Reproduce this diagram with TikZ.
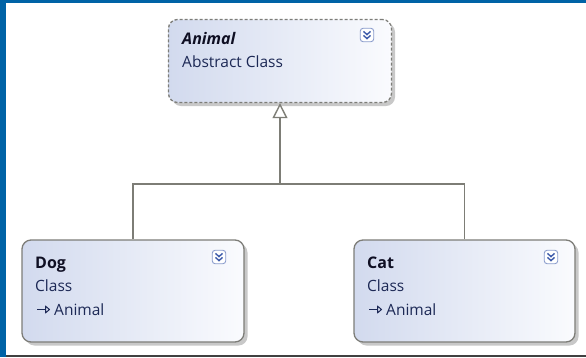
\documentclass[tikz,border=0pt]{standalone}
\usepackage{fontspec}
\setmainfont{Open Sans}
\usetikzlibrary{arrows.meta,shadows}
\definecolor{frameblue}{RGB}{0,99,166}
\definecolor{boxleft}{RGB}{210,218,238}
\definecolor{boxright}{RGB}{250,251,254}
\definecolor{boxline}{RGB}{125,125,120}
\definecolor{linkgray}{RGB}{125,125,118}
\definecolor{nametext}{RGB}{15,15,35}
\definecolor{subtext}{RGB}{28,40,85}
\definecolor{iconblue}{RGB}{60,90,170}
\tikzset{
  classbox/.style={rectangle, rounded corners=9pt, draw=boxline, line width=1.3pt,
    left color=boxleft, right color=boxright, inner sep=0pt,
    drop shadow={shadow xshift=3.5pt, shadow yshift=-3.5pt, fill=black!30, opacity=0.7}},
  abstractbox/.style={classbox, dashed, dash pattern=on 3pt off 2pt},
  titletext/.style={anchor=base west, font=\fontsize{16}{18}\selectfont\bfseries, text=nametext, inner sep=0pt},
  kindtext/.style={anchor=base west, font=\fontsize{15.5}{18}\selectfont, text=subtext, inner sep=0pt},
  collapsebtn/.style={rectangle, rounded corners=3pt, draw=iconblue!60, line width=0.9pt,
    fill=white, minimum width=13.5pt, minimum height=13.5pt, inner sep=0pt},
  chevron/.style={draw=iconblue, line width=1.4pt},
  link/.style={draw=linkgray, line width=1.4pt},
  inherit/.style={link, -{Triangle[open, length=15pt, width=15pt, line width=1.4pt]}}
}
\newcommand{\chevrons}[1]{%
  \draw[chevron] ([xshift=-3.5pt,yshift=3.6pt]#1.center) -- ([yshift=0.4pt]#1.center) -- ([xshift=3.5pt,yshift=3.6pt]#1.center);
  \draw[chevron] ([xshift=-3.5pt,yshift=-0.4pt]#1.center) -- ([yshift=-3.6pt]#1.center) -- ([xshift=3.5pt,yshift=-0.4pt]#1.center);
}
\newcommand{\baseclassmark}[2]{%
  \draw[draw=subtext, line width=1.1pt] (#1,#2) -- ++(8.5,0);
  \draw[draw=subtext, line width=1pt, line join=round] (#1+8.5,#2-3.4) -- (#1+12.5,#2) -- (#1+8.5,#2+3.4) -- cycle;
}
\begin{document}
\begin{tikzpicture}[x=1pt, y=-1pt]
  \useasboundingbox (0,0) rectangle (586,357);
  \fill[white] (0,0) rectangle (586,357);
  % window frame
  \fill[frameblue] (0,0) rectangle (6,357);
  \fill[frameblue] (0,0) rectangle (586,3);
  \fill[black!75] (6,354.5) rectangle (586,357);

  % class shapes
  \node[abstractbox, minimum width=223pt, minimum height=83pt] (animal) at (280,61) {};
  \node[classbox, minimum width=222pt, minimum height=102pt] (dog) at (133,291) {};
  \node[classbox, minimum width=221pt, minimum height=102pt] (cat) at (464.5,291) {};

  % Animal
  \node[titletext, font=\fontsize{16}{18}\selectfont\bfseries\itshape] (animalname) at (182,44) {Animal};
  \node[kindtext] (animalkind) at (182,67.5) {Abstract Class};
  \node[collapsebtn] (animalbtn) at (367,35) {};
  \chevrons{animalbtn}

  % Dog
  \node[titletext] (dogname) at (35,268.5) {Dog};
  \node[kindtext] (dogkind) at (35,291.5) {Class};
  \baseclassmark{37}{309.5}
  \node[kindtext] (dogbase) at (54,315.5) {Animal};
  \node[collapsebtn] (dogbtn) at (219,257) {};
  \chevrons{dogbtn}

  % Cat
  \node[titletext] (catname) at (367,268.5) {Cat};
  \node[kindtext] (catkind) at (367,291.5) {Class};
  \baseclassmark{369}{309.5}
  \node[kindtext] (catbase) at (386,315.5) {Animal};
  \node[collapsebtn] (catbtn) at (551,257) {};
  \chevrons{catbtn}

  % inheritance connector
  \coordinate (joint) at (280,184);
  \draw[link] (dog.north) |- (joint);
  \draw[link] (cat.north) |- (joint);
  \draw[inherit] (joint) -- (animal.south);
\end{tikzpicture}
\end{document}
